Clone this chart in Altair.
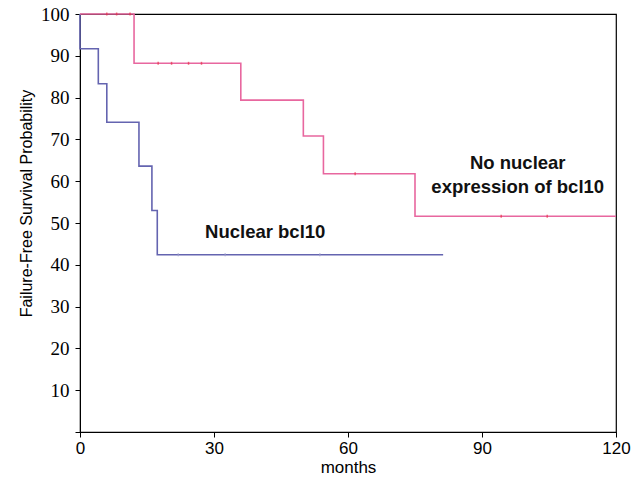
import altair as alt
import pandas as pd

# Nuclear bcl10 (blue) step curve
blue_x = [0, 0, 4.1, 6.0, 13.2, 16.1, 17.3, 81.3]
blue_y = [100, 91.7, 83.3, 74.1, 63.6, 53.0, 42.4, 42.4]
# No nuclear expression (pink) step curve
pink_x = [0, 12.1, 36.0, 50.0, 54.5, 75.0, 120.0]
pink_y = [100, 88.2, 79.4, 70.8, 61.8, 51.6, 51.6]
# censor marks
pink_cx = [6.0, 8.2, 11.2, 17.5, 20.5, 24.3, 27.2, 61.6, 94.3, 104.6]
pink_cy = [100, 100, 100, 88.2, 88.2, 88.2, 88.2, 61.8, 51.6, 51.6]
blue_cx = [22.0, 32.5, 53.7]
blue_cy = [42.4, 42.4, 42.4]

labels_text = ["Nuclear bcl10", "No nuclear", "expression of bcl10"]
labels_x = [28.0, 98.0, 98.0]
labels_y = [47.8, 64.3, 58.6]

x_ticks = [0, 30, 60, 90, 120]
y_ticks = [0, 10, 20, 30, 40, 50, 60, 70, 80, 90, 100]

BLUE = "#6464B0"
PINK = "#E8679F"

lines = pd.DataFrame({
    "m": blue_x + pink_x,
    "p": blue_y + pink_y,
    "g": ["Nuclear"] * len(blue_x) + ["None"] * len(pink_x),
    "i": list(range(len(blue_x))) + list(range(len(pink_x))),
})
cens = pd.DataFrame({
    "m": blue_cx + pink_cx,
    "p": blue_cy + pink_cy,
    "g": ["Nuclear"] * len(blue_cx) + ["None"] * len(pink_cx),
})
labs = pd.DataFrame({"t": labels_text, "m": labels_x, "p": labels_y})

xs = alt.Scale(domain=[0, 120], nice=False, zero=False)
ys = alt.Scale(domain=[0, 100], nice=False)

xax = alt.Axis(values=x_ticks, title="months", grid=False, domainColor="black",
               tickColor="black", tickSize=5,
               labelFont="Liberation Sans",
               labelFontSize=17, labelColor="black", labelPadding=3,
               titleFont="Liberation Sans", titleFontSize=17, titleFontWeight="normal",
               titleColor="black", titlePadding=3, labelFlush=False)
yax = alt.Axis(values=y_ticks, title="Failure-Free Survival Probability", grid=False,
               domainColor="black", tickColor="black", tickSize=5,
               labelFont="Liberation Serif", labelFontSize=19, labelColor="black",
               labelPadding=6, labelExpr="datum.value == 0 ? '' : datum.label",
               titleFont="Liberation Sans", titleFontSize=16, titleFontWeight="normal",
               titleColor="black", titlePadding=6, titleY=189)

color = alt.Color("g:N", scale=alt.Scale(domain=["Nuclear", "None"], range=[BLUE, PINK]), legend=None)

line = alt.Chart(lines).mark_line(interpolate="step-after", strokeWidth=1.6).encode(
    x=alt.X("m:Q", scale=xs, axis=xax),
    y=alt.Y("p:Q", scale=ys, axis=yax),
    color=color,
    detail="g:N",
    order="i:Q",
)

cmarks = alt.Chart(cens).mark_tick(orient="vertical", size=3, thickness=1.5).encode(
    x=alt.X("m:Q", scale=xs),
    y=alt.Y("p:Q", scale=ys),
    color=alt.Color("g:N", scale=alt.Scale(domain=["Nuclear", "None"], range=["#9C9CCC", "#E8304A"]), legend=None),
)

text_left = alt.Chart(labs.iloc[[0]]).mark_text(font="Liberation Sans", fontSize=18.5, fontWeight="bold",
                                 color="#111111", baseline="middle", align="left").encode(
    x=alt.X("m:Q", scale=xs), y=alt.Y("p:Q", scale=ys), text="t:N")
text_center = alt.Chart(labs.iloc[[1, 2]]).mark_text(font="Liberation Sans", fontSize=18.5, fontWeight="bold",
                                 color="#111111", baseline="middle", align="center").encode(
    x=alt.X("m:Q", scale=xs), y=alt.Y("p:Q", scale=ys), text="t:N")

chart = alt.layer(line, cmarks, text_left, text_center).resolve_scale(color="independent").properties(
    width=536, height=418,
    background="white",
    autosize=alt.AutoSizeParams(type="none"),
    padding={"left": 72, "top": 6, "right": 20, "bottom": 45},
).configure_view(stroke="black", strokeWidth=1.2)

chart.save("out.html", embed_options={"renderer": "svg", "actions": False})
